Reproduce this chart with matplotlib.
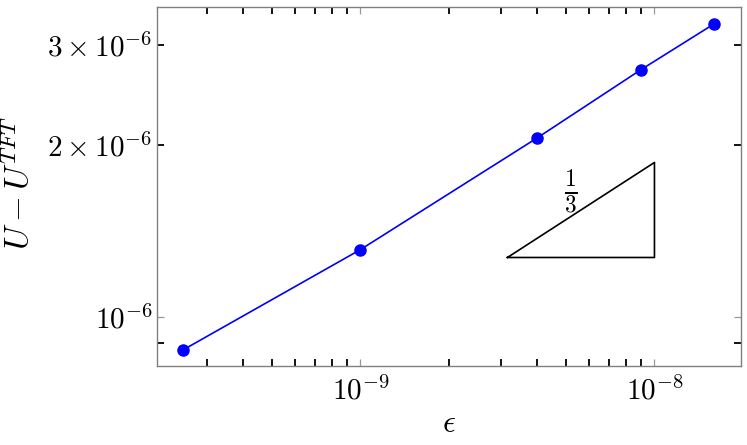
import numpy as np
import matplotlib
matplotlib.use("Agg")
import matplotlib.pyplot as plt

plt.rcParams['mathtext.fontset'] = 'cm'
plt.rcParams['font.family'] = 'serif'
plt.rcParams['font.serif'] = ['cmr10', 'DejaVu Serif']
plt.rcParams['axes.formatter.use_mathtext'] = True

# data
eps = [2.5e-10, 1e-9, 4e-9, 9e-9, 1.6e-8]
du = [0.875e-6, 1.311e-6, 2.06e-6, 2.712e-6, 3.266e-6]

# slope triangle
tri_x = [10**-8.5, 1e-8]
tri_y0 = 1.27e-6
tri_slope = 1/3

f = plt.figure(figsize=(7.47, 4.45), dpi=100)
ax = f.add_axes([0.210, 0.1775, 0.782, 0.806])

ax.loglog(eps, du, "b-", marker="o", markersize=8, linewidth=1.2)

x0, x1 = tri_x
y1 = tri_y0*(x1/x0)**tri_slope
ax.plot([x0, x1, x1, x0], [tri_y0, tri_y0, y1, tri_y0], "k-", linewidth=1.2)
ax.text(5.2e-9, 1.66e-6, r"$\frac{1}{3}$", fontsize=24, ha="center", va="center")

ax.set_xlabel(r"$\epsilon$", fontsize=23, labelpad=4)
ax.set_ylabel(r"$U - U^{TFT}$", fontsize=24)
ax.yaxis.set_label_coords(-0.208, 0.51)

ax.tick_params(which="both", direction="in", top=True, right=True, labelsize=21, length=5)
ax.tick_params(which="major", color="0.6", width=0.9)
ax.tick_params(which="minor", color="k", width=1.3)
ax.tick_params(axis="x", which="both", pad=7)
ax.tick_params(axis="y", which="both", pad=3)
for s in ax.spines.values():
    s.set_color("0.5")
    s.set_linewidth(1.0)

f.savefig("out.png", dpi=100)
